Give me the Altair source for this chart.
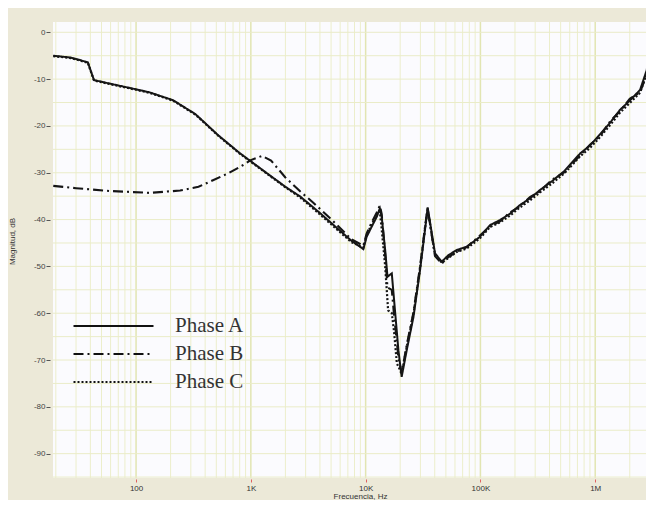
import altair as alt
import pandas as pd

PHASES = ["Phase A", "Phase B", "Phase C"]

A_F = [19, 27, 38, 43, 60, 85, 130, 210, 330, 520, 800, 1200, 2000, 2700, 4000, 5500,
       7500, 9550, 10200, 11300, 12500, 13300, 13800, 14800, 15500, 16900, 17700, 19300,
       20600, 22800, 26100, 29800, 32900, 34700, 36900, 40200, 46000, 52600, 62200, 75900,
       99000, 121000, 148000, 180000, 221000, 270000, 330000, 420000, 540000, 738000,
       900000, 1100000, 1350000, 1640000, 2000000, 2460000, 2810000, 3000000, 3100000, 3250000]
A_V = [-5.0, -5.4, -6.4, -10.2, -11.0, -11.8, -12.8, -14.5, -17.5, -22.0, -25.8, -29.0, -33.0,
       -35.1, -38.6, -41.6, -44.5, -46.3, -43.7, -41.5, -39.4, -37.6, -39.4, -46.5, -52.2,
       -51.5, -57.2, -67.9, -73.6, -67.9, -60.8, -50.8, -42.2, -37.4, -41.5, -47.2, -49.0,
       -47.6, -46.5, -45.8, -43.7, -41.2, -40.1, -38.8, -36.9, -35.5, -33.7, -31.8, -29.6,
       -25.9, -24.2, -21.8, -19.3, -16.6, -14.6, -12.3, -8.1, -3.1, -2.5, -12.0]

B_F = [19, 30, 59, 132, 242, 350, 468, 650, 850, 1000, 1250, 1500, 2000, 2700, 3500, 5000,
       7500, 9550, 10200, 11300, 12500, 13300, 13800, 14800, 15500, 16900, 17700, 19300,
       20600, 22800, 26100, 29800, 32900, 34700, 36900, 40200, 46000, 52600, 62200, 75900,
       99000, 121000, 148000, 180000, 221000, 270000, 330000, 420000, 540000, 738000,
       900000, 1100000, 1350000, 1640000, 2000000, 2460000, 2810000, 3000000, 3100000, 3250000]
B_V = [-32.8, -33.3, -33.9, -34.3, -33.8, -33.0, -31.6, -30.0, -28.4, -27.3, -26.4, -27.4,
       -31.0, -34.0, -36.4, -39.9, -44.2, -45.6, -43.0, -40.6, -38.5, -37.0, -38.8, -47.5,
       -54.5, -55.0, -60.5, -69.5, -72.8, -66.8, -59.8, -50.0, -41.6, -37.6, -42.0, -47.8,
       -49.4, -48.0, -46.9, -45.9, -43.4, -41.5, -40.4, -38.5, -37.2, -35.2, -34.0, -31.5,
       -29.9, -26.3, -24.0, -22.2, -19.0, -16.9, -14.2, -12.8, -9.0, -4.5, -3.5, -13.0]

C_F = [19, 27, 38, 43, 60, 85, 130, 210, 330, 520, 800, 1200, 2000, 2700, 4000, 5500,
       7500, 9550, 10200, 11300, 12500, 13300, 13800, 14800, 15700, 16900, 17700, 18700,
       19800, 20600, 22800, 26100, 29800, 32900, 34700, 36900, 40200, 46000, 52600, 62200,
       75900, 99000, 121000, 148000, 180000, 221000, 270000, 330000, 420000, 540000, 738000,
       900000, 1100000, 1350000, 1640000, 2000000, 2460000, 2810000, 3000000, 3100000, 3250000]
C_V = [-5.1, -5.5, -6.5, -10.3, -11.1, -11.9, -12.9, -14.6, -17.6, -22.1, -25.9, -29.1, -33.1,
       -35.3, -38.9, -41.9, -44.8, -46.0, -43.2, -41.0, -39.0, -38.3, -42.0, -50.0, -59.4,
       -60.0, -64.0, -70.7, -72.0, -73.0, -67.2, -60.2, -50.4, -42.0, -37.8, -41.8, -47.5,
       -49.2, -48.2, -46.9, -46.2, -44.0, -41.6, -40.6, -39.2, -37.4, -35.9, -34.2, -32.3,
       -30.1, -26.5, -24.7, -22.4, -19.8, -17.2, -15.1, -12.9, -8.8, -4.0, -3.2, -12.5]

DECADES = [100, 1000, 10000, 100000, 1000000]
MINOR = [20, 30, 40, 50, 60, 70, 80, 90,
         200, 300, 400, 500, 600, 700, 800, 900,
         2000, 3000, 4000, 5000, 6000, 7000, 8000, 9000,
         20000, 30000, 40000, 50000, 60000, 70000, 80000, 90000,
         200000, 300000, 400000, 500000, 600000, 700000, 800000, 900000,
         2000000]
HGRID = [0, -5, -10, -15, -20, -25, -30, -35, -40, -45, -50, -55, -60, -65, -70, -75, -80,
         -85, -90, -95]
YTICKS = [0, -10, -20, -30, -40, -50, -60, -70, -80, -90]

rows = []
for name, fs, vs in [("Phase A", A_F, A_V), ("Phase B", B_F, B_V), ("Phase C", C_F, C_V)]:
    rows += [{"f": f, "db": v, "phase": name} for f, v in zip(fs, vs)]
df = pd.DataFrame(rows)

xscale = alt.Scale(type="log", domain=[18.9, 2.77e6], nice=False)
yscale = alt.Scale(domain=[-95.2, 2.2], nice=False, zero=False)

FONT = "Liberation Sans"
xaxis = alt.Axis(
    values=DECADES,
    labelExpr="datum.value >= 1000000 ? (datum.value/1000000) + 'M' : datum.value >= 1000 ? (datum.value/1000) + 'K' : '' + datum.value",
    grid=False, domain=False, tickColor="#E06060", tickSize=3, tickWidth=1, offset=1,
    labelFont=FONT, labelFontSize=8, labelColor="#333", labelPadding=2,
    title="Frecuencia, Hz", titleFont=FONT, titleFontSize=8, titleFontWeight="normal",
    titleColor="#333", titleX=307, titleY=17.5, titleBaseline="middle", titleAlign="center",
)
yaxis = alt.Axis(
    values=YTICKS, labelExpr="'' + datum.value",
    grid=False, domain=False, tickColor="#555", tickSize=4, offset=3,
    labelFont=FONT, labelFontSize=8, labelColor="#444", labelPadding=1,
    title="Magnitud, dB", titleFont=FONT, titleFontSize=8, titleFontWeight="normal",
    titleColor="#333", titleX=-38, titleY=219, titleAngle=270, titleAlign="center",
    titleBaseline="middle",
)

X = lambda: alt.X("f:Q", scale=xscale, axis=xaxis)
Y = lambda: alt.Y("db:Q", scale=yscale, axis=yaxis)

vminor = alt.Chart(pd.DataFrame({"f": MINOR})).mark_rule(color="#ECEECB", strokeWidth=1).encode(x=X())
vmajor = alt.Chart(pd.DataFrame({"f": DECADES})).mark_rule(color="#E2E5B2", strokeWidth=1.5).encode(x=X())
hgrid = alt.Chart(pd.DataFrame({"db": HGRID})).mark_rule(color="#EAECC8", strokeWidth=1).encode(y=Y())

dash_scale = alt.Scale(domain=PHASES, range=[[1, 0], [10, 4, 2, 4], [2, 2]])
width_scale = alt.Scale(domain=PHASES, range=[2, 2.2, 1.6])
legend = alt.Legend(
    orient="none", legendX=19, legendY=293.5, title=None, symbolType="stroke",
    symbolSize=6400, symbolStrokeWidth=2, symbolStrokeColor="#111", clipHeight=21,
    labelFont="Liberation Serif", labelFontSize=21, labelColor="#333", labelOffset=20,
    rowPadding=6, padding=0,
)

lines = []
for p in ["Phase C", "Phase B", "Phase A"]:
    lines.append(
        alt.Chart(df).transform_filter(alt.datum.phase == p)
        .mark_line(clip=True, color="#151515")
        .encode(
            x=X(), y=Y(),
            strokeDash=alt.StrokeDash("phase:N", scale=dash_scale, legend=legend),
            strokeWidth=alt.StrokeWidth("phase:N", scale=width_scale, legend=None),
        )
    )

chart = alt.layer(vminor, vmajor, hgrid, *lines).properties(
    width=593, height=456,
    autosize=alt.AutoSizeParams(type="none"),
    padding={"left": 45, "top": 14, "right": 0, "bottom": 22},
    background="#ECE9D8",
).configure_view(fill="#FBFBFE", stroke=None)

chart.save("out.html", embed_options={"renderer": "svg", "actions": False})
